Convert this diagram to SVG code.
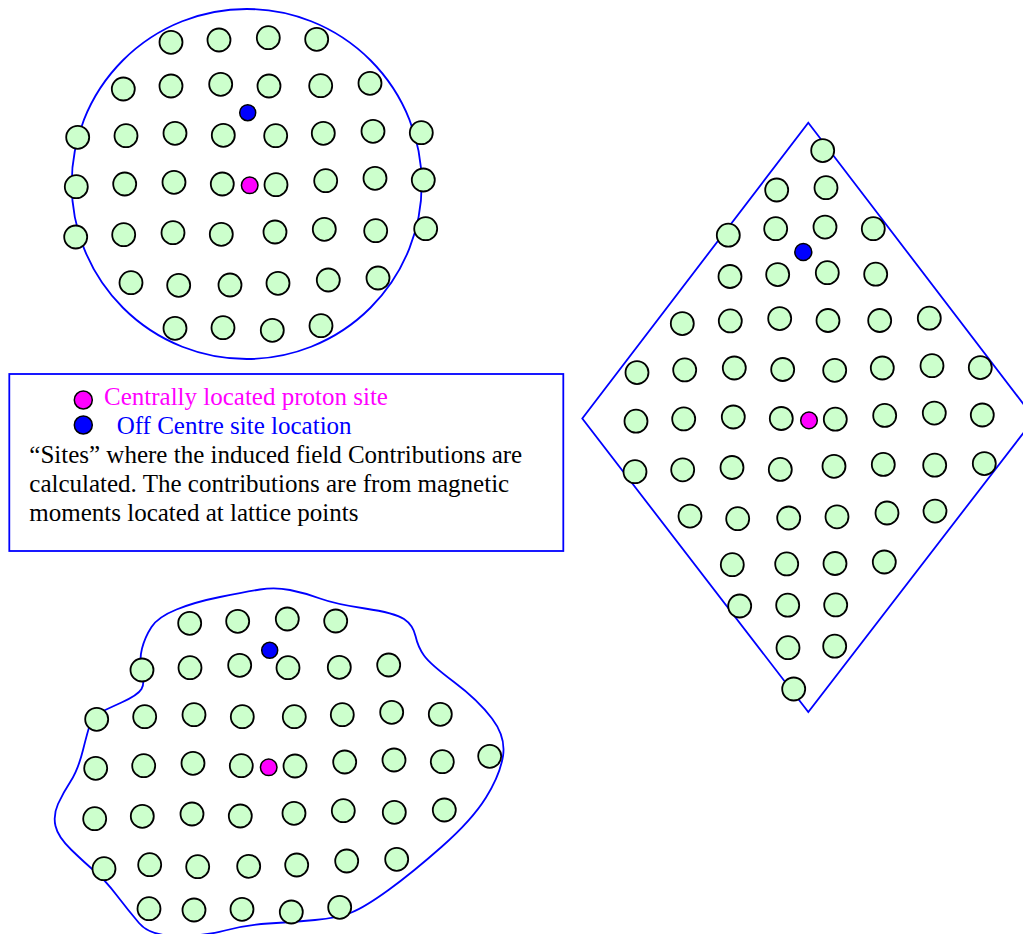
<svg xmlns="http://www.w3.org/2000/svg" width="1023" height="934" viewBox="0 0 1023 934">
<style>
.b{fill:none;stroke:#0000ff;stroke-width:1.8}
.s{fill:#ccffcc;stroke:#000;stroke-width:1.8}
.m{fill:#ff00ff;stroke:#000;stroke-width:1.5}
.o{fill:#0000ff;stroke:#000;stroke-width:1.5}
text{font-family:"Liberation Serif","Times New Roman",serif;font-size:25px}
</style>
<rect width="1023" height="934" fill="#fff"/>
<g id="round-region">
<circle class="b" cx="246.7" cy="184" r="175"/>
<circle class="s" cx="171" cy="42.3" r="11.5"/><circle class="s" cx="219" cy="40" r="11.5"/><circle class="s" cx="268.3" cy="37.7" r="11.5"/><circle class="s" cx="316.7" cy="39.3" r="11.5"/>
<circle class="s" cx="123.3" cy="89" r="11.5"/><circle class="s" cx="171" cy="86" r="11.5"/><circle class="s" cx="220.7" cy="84.3" r="11.5"/><circle class="s" cx="269" cy="86" r="11.5"/><circle class="s" cx="320.7" cy="85.7" r="11.5"/><circle class="s" cx="370" cy="83.3" r="11.5"/>
<circle class="s" cx="77.7" cy="137.3" r="11.5"/><circle class="s" cx="126" cy="135.7" r="11.5"/><circle class="s" cx="175" cy="133.3" r="11.5"/><circle class="s" cx="223.3" cy="135.3" r="11.5"/><circle class="s" cx="275.7" cy="135.7" r="11.5"/><circle class="s" cx="323.3" cy="133.3" r="11.5"/><circle class="s" cx="373" cy="131.3" r="11.5"/><circle class="s" cx="421.3" cy="132.7" r="11.5"/>
<circle class="s" cx="76.3" cy="186.7" r="11.5"/><circle class="s" cx="124.7" cy="184" r="11.5"/><circle class="s" cx="174" cy="182.3" r="11.5"/><circle class="s" cx="222.3" cy="184" r="11.5"/><circle class="s" cx="276" cy="184.7" r="11.5"/><circle class="s" cx="325.7" cy="180.7" r="11.5"/><circle class="s" cx="375" cy="178.3" r="11.5"/><circle class="s" cx="423.3" cy="180" r="11.5"/>
<circle class="s" cx="75.7" cy="237" r="11.5"/><circle class="s" cx="123.7" cy="234.7" r="11.5"/><circle class="s" cx="173" cy="232.7" r="11.5"/><circle class="s" cx="221.3" cy="234.3" r="11.5"/><circle class="s" cx="275" cy="232" r="11.5"/><circle class="s" cx="324.3" cy="229.3" r="11.5"/><circle class="s" cx="375.7" cy="230.7" r="11.5"/><circle class="s" cx="425.7" cy="228.7" r="11.5"/>
<circle class="s" cx="131" cy="282.7" r="11.5"/><circle class="s" cx="178.7" cy="285.3" r="11.5"/><circle class="s" cx="230" cy="285" r="11.5"/><circle class="s" cx="278" cy="283.3" r="11.5"/><circle class="s" cx="328.3" cy="280" r="11.5"/><circle class="s" cx="378" cy="278" r="11.5"/>
<circle class="s" cx="175" cy="328.3" r="11.5"/><circle class="s" cx="223" cy="327.7" r="11.5"/><circle class="s" cx="272.3" cy="330.3" r="11.5"/><circle class="s" cx="321" cy="325.7" r="11.5"/>
<circle class="o" cx="247.7" cy="112.7" r="8"/>
<circle class="m" cx="249.7" cy="185.3" r="8.3"/>
</g>
<g id="diamond-region">
<polygon class="b" points="808.3,122.7 1034.5,418.5 808.3,712 582.3,418.5"/>
<circle class="s" cx="822.7" cy="150.6" r="11.5"/>
<circle class="s" cx="776.7" cy="190" r="11.5"/><circle class="s" cx="826" cy="187.7" r="11.5"/>
<circle class="s" cx="728.3" cy="235.2" r="11.5"/><circle class="s" cx="775.7" cy="228.7" r="11.5"/><circle class="s" cx="825" cy="227.1" r="11.5"/><circle class="s" cx="873.3" cy="228.7" r="11.5"/>
<circle class="s" cx="730" cy="276.5" r="11.5"/><circle class="s" cx="777.7" cy="274.6" r="11.5"/><circle class="s" cx="827.3" cy="272.7" r="11.5"/><circle class="s" cx="875.7" cy="274.2" r="11.5"/>
<circle class="s" cx="682.3" cy="323.6" r="11.5"/><circle class="s" cx="730.3" cy="320.9" r="11.5"/><circle class="s" cx="779.7" cy="318.6" r="11.5"/><circle class="s" cx="828" cy="320.5" r="11.5"/><circle class="s" cx="879.7" cy="320.5" r="11.5"/><circle class="s" cx="929.3" cy="318.2" r="11.5"/>
<circle class="s" cx="637" cy="372.6" r="11.5"/><circle class="s" cx="684.7" cy="369.9" r="11.5"/><circle class="s" cx="734.3" cy="368" r="11.5"/><circle class="s" cx="782.7" cy="369.5" r="11.5"/><circle class="s" cx="834.7" cy="370.3" r="11.5"/><circle class="s" cx="882.3" cy="368" r="11.5"/><circle class="s" cx="932" cy="365.7" r="11.5"/><circle class="s" cx="980.3" cy="367.6" r="11.5"/>
<circle class="s" cx="636" cy="421.2" r="11.5"/><circle class="s" cx="683.7" cy="418.9" r="11.5"/><circle class="s" cx="733.3" cy="417" r="11.5"/><circle class="s" cx="781.3" cy="418.5" r="11.5"/><circle class="s" cx="835.3" cy="419.2" r="11.5"/><circle class="s" cx="884.7" cy="415.4" r="11.5"/><circle class="s" cx="934.3" cy="413.1" r="11.5"/><circle class="s" cx="982.3" cy="415" r="11.5"/>
<circle class="s" cx="635" cy="471.7" r="11.5"/><circle class="s" cx="682.7" cy="469.8" r="11.5"/><circle class="s" cx="732" cy="467.5" r="11.5"/><circle class="s" cx="780.3" cy="469.4" r="11.5"/><circle class="s" cx="834" cy="466.3" r="11.5"/><circle class="s" cx="883.3" cy="464.4" r="11.5"/><circle class="s" cx="934.7" cy="465.2" r="11.5"/><circle class="s" cx="984.3" cy="463.6" r="11.5"/>
<circle class="s" cx="690" cy="516.1" r="11.5"/><circle class="s" cx="737.7" cy="518.7" r="11.5"/><circle class="s" cx="788.7" cy="518" r="11.5"/><circle class="s" cx="837" cy="516.8" r="11.5"/><circle class="s" cx="887" cy="513" r="11.5"/><circle class="s" cx="935" cy="511.1" r="11.5"/>
<circle class="s" cx="732.3" cy="564.7" r="11.5"/><circle class="s" cx="786.7" cy="563.9" r="11.5"/><circle class="s" cx="835" cy="563.5" r="11.5"/><circle class="s" cx="884.3" cy="562" r="11.5"/>
<circle class="s" cx="739.7" cy="606" r="11.5"/><circle class="s" cx="787.7" cy="605.2" r="11.5"/><circle class="s" cx="835.7" cy="604.9" r="11.5"/>
<circle class="s" cx="788" cy="647.7" r="11.5"/><circle class="s" cx="834.7" cy="646.2" r="11.5"/>
<circle class="s" cx="793.7" cy="689" r="11.5"/>
<circle class="o" cx="803.3" cy="252" r="8.5"/>
<circle class="m" cx="809" cy="420.4" r="8.3"/>
</g>
<g id="irregular-region">
<path class="b" d="M260,589.5 Q275,587 290,590 Q305,593 320,598.5 Q335,604 365,608.5 Q395,613 404,619 Q413,625 415.5,636 Q418,647 424,655.5 Q430,664 454,682 Q478,700 492,718.5 Q506,737 503,756 Q500,775 486,797.5 Q472,820 442,846.5 Q412,873 388.5,890 Q365,907 351.5,912.5 Q338,918 315,920 Q292,922 268.5,923.5 Q245,925 225,930.5 Q205,936 177.5,936 Q150,936 139,923 Q128,910 116.5,895 Q105,880 95,871.5 Q85,863 71.5,850 Q58,837 55.5,826 Q53,815 58,804 Q63,793 70.5,781.5 Q78,770 83,750 Q88,730 90.5,723 Q93,716 99,713 Q105,710 121.5,702.5 Q138,695 141.5,689 Q145,683 142,671.5 Q139,660 142,648.5 Q145,637 151.5,627 Q158,617 176.5,609.5 Q195,602 220,597 Q245,592 260,589.5 Z"/>
<circle class="s" cx="189.7" cy="623.3" r="11.5"/><circle class="s" cx="237.7" cy="621.3" r="11.5"/><circle class="s" cx="287.3" cy="619" r="11.5"/><circle class="s" cx="335.7" cy="621" r="11.5"/>
<circle class="s" cx="142" cy="670" r="11.5"/><circle class="s" cx="190" cy="667.7" r="11.5"/><circle class="s" cx="239.7" cy="665.3" r="11.5"/><circle class="s" cx="288" cy="667.7" r="11.5"/><circle class="s" cx="339.3" cy="667.3" r="11.5"/><circle class="s" cx="388.7" cy="665" r="11.5"/>
<circle class="s" cx="96.7" cy="719.3" r="11.5"/><circle class="s" cx="144.7" cy="716.7" r="11.5"/><circle class="s" cx="194" cy="714.7" r="11.5"/><circle class="s" cx="242.3" cy="716.7" r="11.5"/><circle class="s" cx="294.3" cy="716.7" r="11.5"/><circle class="s" cx="342.3" cy="714.7" r="11.5"/><circle class="s" cx="391.7" cy="712.3" r="11.5"/><circle class="s" cx="440.3" cy="714.3" r="11.5"/>
<circle class="s" cx="95.7" cy="768.3" r="11.5"/><circle class="s" cx="143.7" cy="765.7" r="11.5"/><circle class="s" cx="193" cy="763.3" r="11.5"/><circle class="s" cx="241.3" cy="765.7" r="11.5"/><circle class="s" cx="295" cy="766" r="11.5"/><circle class="s" cx="344.7" cy="762" r="11.5"/><circle class="s" cx="394" cy="760" r="11.5"/><circle class="s" cx="442.3" cy="761.7" r="11.5"/><circle class="s" cx="489.7" cy="756.3" r="11.5"/>
<circle class="s" cx="94.7" cy="818.7" r="11.5"/><circle class="s" cx="142.3" cy="816.3" r="11.5"/><circle class="s" cx="192" cy="814" r="11.5"/><circle class="s" cx="240.3" cy="816" r="11.5"/><circle class="s" cx="294" cy="813.3" r="11.5"/><circle class="s" cx="343.3" cy="810.7" r="11.5"/><circle class="s" cx="394.3" cy="812.3" r="11.5"/><circle class="s" cx="444.3" cy="810" r="11.5"/>
<circle class="s" cx="104" cy="868.7" r="11.5"/><circle class="s" cx="149.7" cy="864.7" r="11.5"/><circle class="s" cx="197.7" cy="866.7" r="11.5"/><circle class="s" cx="248.7" cy="866.3" r="11.5"/><circle class="s" cx="296.7" cy="865" r="11.5"/><circle class="s" cx="346.7" cy="861" r="11.5"/><circle class="s" cx="396.7" cy="859.3" r="11.5"/>
<circle class="s" cx="149" cy="908.7" r="11.5"/><circle class="s" cx="194" cy="910" r="11.5"/><circle class="s" cx="242" cy="909.3" r="11.5"/><circle class="s" cx="291.3" cy="912" r="11.5"/><circle class="s" cx="339.7" cy="907.3" r="11.5"/>
<circle class="o" cx="269.7" cy="650.3" r="8"/>
<circle class="m" cx="268.7" cy="767.3" r="8.3"/>
</g>
<g id="legend">
<rect x="9.3" y="374" width="554" height="177" fill="#fff" stroke="#0000ff" stroke-width="1.8"/>
<circle class="m" cx="83.3" cy="400" r="9"/>
<circle class="o" cx="83.3" cy="425" r="9"/>
<text x="104" y="405" fill="#ff00ff">Centrally located proton site</text>
<text x="116.7" y="434" fill="#0000ff">Off Centre site location</text>
<text x="29.3" y="462.7" fill="#000">“Sites” where the induced field Contributions are</text>
<text x="29.3" y="491.7" fill="#000">calculated. The contributions are from magnetic</text>
<text x="29.3" y="521" fill="#000">moments located at lattice points</text>
</g>
</svg>
